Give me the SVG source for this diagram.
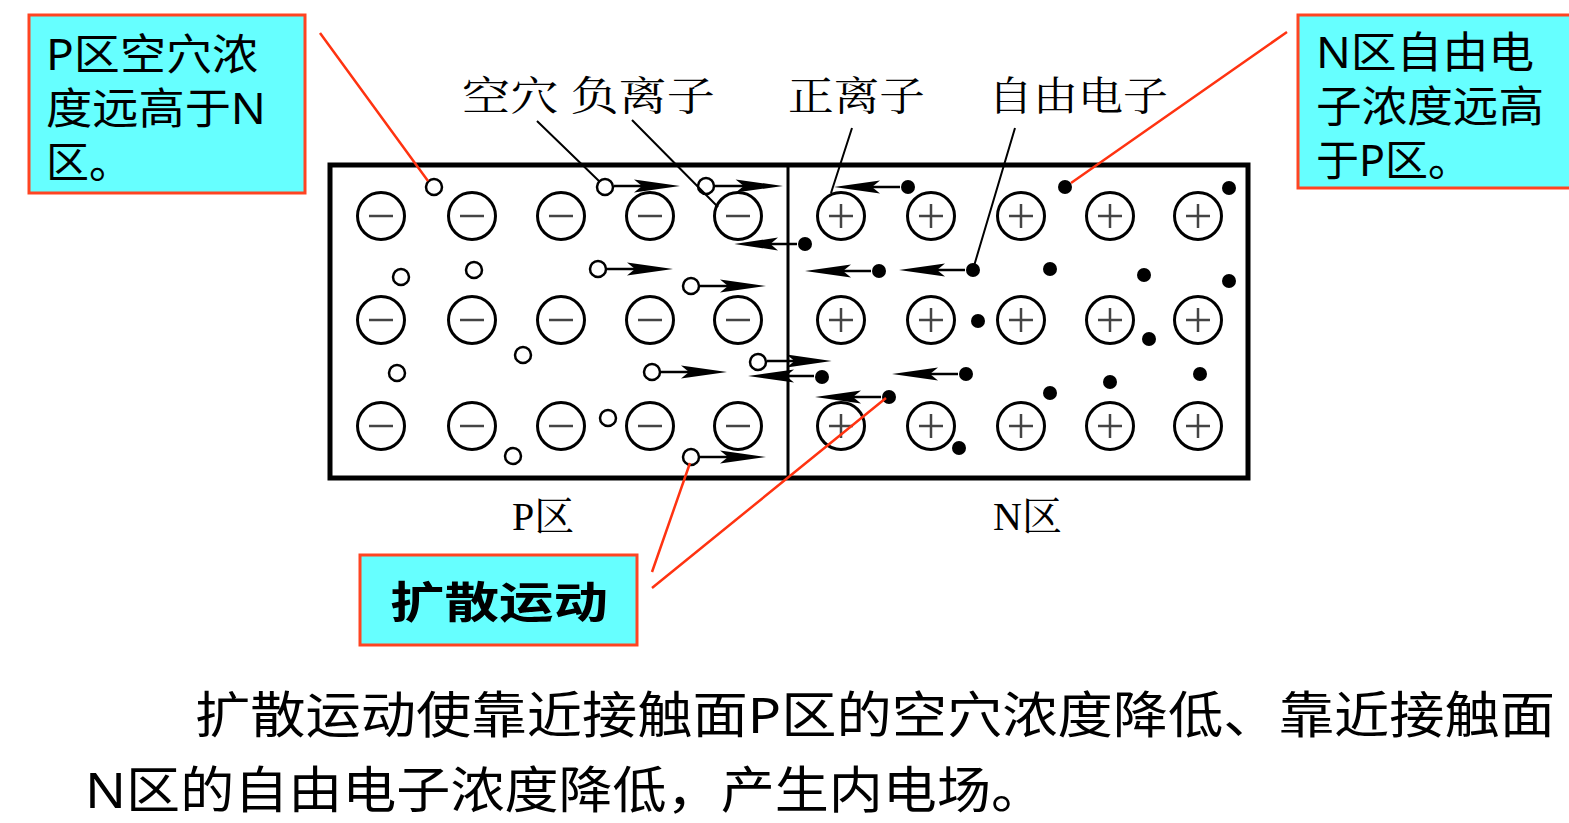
<svg xmlns="http://www.w3.org/2000/svg" xmlns:xlink="http://www.w3.org/1999/xlink" width="1569" height="823" viewBox="0 0 1569 823">
<style>
.ion{fill:#fff;stroke:#000;stroke-width:3}
.sign{stroke:#444;stroke-width:2.5}
.hole{fill:#fff;stroke:#000;stroke-width:2.5}
.el{fill:#000}
.red{stroke:#ff3311;stroke-width:2.5;fill:none}
.lead{stroke:#000;stroke-width:2;fill:none}
.cb{fill:#66ffff;stroke:#ff4422;stroke-width:3}
.ct{font-family:"Noto Sans","Noto Sans CJK SC",sans-serif;font-size:43px;fill:#000}
.lab{font-family:"Liberation Serif","Noto Serif CJK SC","Noto Sans CJK SC",serif;font-size:40px;fill:#000}
.bt{font-family:"Noto Sans","Noto Sans CJK SC",sans-serif;font-size:50px;fill:#000}
</style>
<defs>
<g id="ar"><path d="M0,0 H30" stroke="#000" stroke-width="2.5"/><polygon points="20,-6.5 66,0 20,6.5 28,0" fill="#000"/></g>
<g id="al"><path d="M0,0 H-30" stroke="#000" stroke-width="2.5"/><polygon points="-20,-6.5 -66,0 -20,6.5 -28,0" fill="#000"/></g>
<g id="neg"><circle r="23.5" class="ion"/><path d="M-12,0 H12" class="sign"/></g>
<g id="pos"><circle r="23.5" class="ion"/><path d="M-12,0 H12 M0,-12 V12" class="sign"/></g>
</defs>
<rect width="1569" height="823" fill="#fff"/>
<g id="crystal">
<rect x="330" y="165" width="918" height="313" fill="none" stroke="#000" stroke-width="5"/>
<path d="M788,165 V478" stroke="#000" stroke-width="3"/>
<g id="neg-ions">
<use href="#neg" x="381" y="216"/><use href="#neg" x="472" y="216"/><use href="#neg" x="561" y="216"/><use href="#neg" x="650" y="216"/><use href="#neg" x="738" y="216"/>
<use href="#neg" x="381" y="320"/><use href="#neg" x="472" y="320"/><use href="#neg" x="561" y="320"/><use href="#neg" x="650" y="320"/><use href="#neg" x="738" y="320"/>
<use href="#neg" x="381" y="426"/><use href="#neg" x="472" y="426"/><use href="#neg" x="561" y="426"/><use href="#neg" x="650" y="426"/><use href="#neg" x="738" y="426"/>
</g>
<g id="pos-ions">
<use href="#pos" x="841" y="216"/><use href="#pos" x="931" y="216"/><use href="#pos" x="1021" y="216"/><use href="#pos" x="1110" y="216"/><use href="#pos" x="1198" y="216"/>
<use href="#pos" x="841" y="320"/><use href="#pos" x="931" y="320"/><use href="#pos" x="1021" y="320"/><use href="#pos" x="1110" y="320"/><use href="#pos" x="1198" y="320"/>
<use href="#pos" x="841" y="426"/><use href="#pos" x="931" y="426"/><use href="#pos" x="1021" y="426"/><use href="#pos" x="1110" y="426"/><use href="#pos" x="1198" y="426"/>
</g>
<g id="holes">
<circle class="hole" cx="434" cy="187" r="8"/><circle class="hole" cx="401" cy="277" r="8"/><circle class="hole" cx="474" cy="270" r="8"/>
<circle class="hole" cx="523" cy="355" r="8"/><circle class="hole" cx="397" cy="373" r="8"/><circle class="hole" cx="513" cy="456" r="8"/>
<circle class="hole" cx="608" cy="418" r="8"/><circle class="hole" cx="605" cy="187" r="8"/><circle class="hole" cx="706" cy="186" r="8"/>
<circle class="hole" cx="598" cy="269" r="8"/><circle class="hole" cx="691" cy="286" r="8"/><circle class="hole" cx="652" cy="372" r="8"/>
<circle class="hole" cx="758" cy="362" r="8"/><circle class="hole" cx="691" cy="457" r="8"/>
</g>
<g id="electrons">
<circle class="el" cx="908" cy="187" r="7"/><circle class="el" cx="1065" cy="187" r="7"/><circle class="el" cx="1229" cy="188" r="7"/>
<circle class="el" cx="805" cy="244" r="7"/><circle class="el" cx="879" cy="271" r="7"/><circle class="el" cx="973" cy="270" r="7"/>
<circle class="el" cx="1050" cy="269" r="7"/><circle class="el" cx="1144" cy="275" r="7"/><circle class="el" cx="1229" cy="281" r="7"/>
<circle class="el" cx="978" cy="321" r="7"/><circle class="el" cx="1149" cy="339" r="7"/><circle class="el" cx="822" cy="377" r="7"/>
<circle class="el" cx="966" cy="374" r="7"/><circle class="el" cx="889" cy="397" r="7"/><circle class="el" cx="1050" cy="393" r="7"/>
<circle class="el" cx="1110" cy="382" r="7"/><circle class="el" cx="1200" cy="374" r="7"/><circle class="el" cx="959" cy="448" r="7"/>
</g>
</g>
<g id="connectors">
<use href="#ar" transform="translate(614,186) scale(1.0,1)"/>
<use href="#ar" transform="translate(715,186) scale(1.03,1)"/>
<use href="#ar" transform="translate(607,269) scale(1.0,1)"/>
<use href="#ar" transform="translate(700,286) scale(1.0,1)"/>
<use href="#ar" transform="translate(661,372) scale(1.0,1)"/>
<use href="#ar" transform="translate(767,361) scale(0.98,1)"/>
<use href="#ar" transform="translate(700,457) scale(1.0,1)"/>
<use href="#al" transform="translate(900,187) scale(1.0,1)"/>
<use href="#al" transform="translate(797,244) scale(0.95,1)"/>
<use href="#al" transform="translate(871,271) scale(1.0,1)"/>
<use href="#al" transform="translate(965,270) scale(1.0,1)"/>
<use href="#al" transform="translate(814,376) scale(1.0,1)"/>
<use href="#al" transform="translate(958,374) scale(1.0,1)"/>
<use href="#al" transform="translate(881,397) scale(1.0,1)"/>
<path class="lead" d="M537,121 L600,182 M632,120 L718,207 M852,128 L831,193 M1015,128 L974,266"/>
<path class="red" d="M320,33 L428,181 M1287,32 L1071,183 M652,572 L690,463 M652,588 L886,398"/>
</g>
<g id="labels">
<text class="lab" x="462" y="110" textLength="253" lengthAdjust="spacingAndGlyphs">空穴 负离子</text>
<text class="lab" x="788" y="110" textLength="137" lengthAdjust="spacingAndGlyphs">正离子</text>
<text class="lab" x="988" y="110" textLength="180" lengthAdjust="spacingAndGlyphs">自由电子</text>
<text class="lab" x="512" y="530">P区</text>
<text class="lab" x="993" y="530">N区</text>
</g>
<g id="callout-p">
<rect class="cb" x="29" y="15" width="276" height="178"/>
<text class="ct" x="46" y="70" textLength="212" lengthAdjust="spacingAndGlyphs">P区空穴浓</text>
<text class="ct" x="46" y="124" textLength="220" lengthAdjust="spacingAndGlyphs">度远高于N</text>
<text class="ct" x="46" y="178">区。</text>
</g>
<g id="callout-n">
<rect class="cb" x="1298" y="15" width="280" height="173"/>
<text class="ct" x="1316" y="68" textLength="218" lengthAdjust="spacingAndGlyphs">N区自由电</text>
<text class="ct" x="1316" y="122" textLength="228" lengthAdjust="spacingAndGlyphs">子浓度远高</text>
<text class="ct" x="1316" y="176">于P区。</text>
</g>
<g id="callout-diff">
<rect class="cb" x="360" y="555" width="277" height="90"/>
<text class="ct" x="499" y="618" text-anchor="middle" font-weight="bold" font-size="56" textLength="218" lengthAdjust="spacingAndGlyphs">扩散运动</text>
</g>
<g id="caption">
<text class="bt" x="195" y="733" textLength="1360" lengthAdjust="spacingAndGlyphs">扩散运动使靠近接触面P区的空穴浓度降低、靠近接触面</text>
<text class="bt" x="85" y="808" textLength="960" lengthAdjust="spacingAndGlyphs">N区的自由电子浓度降低，产生内电场。</text>
</g>
</svg>
